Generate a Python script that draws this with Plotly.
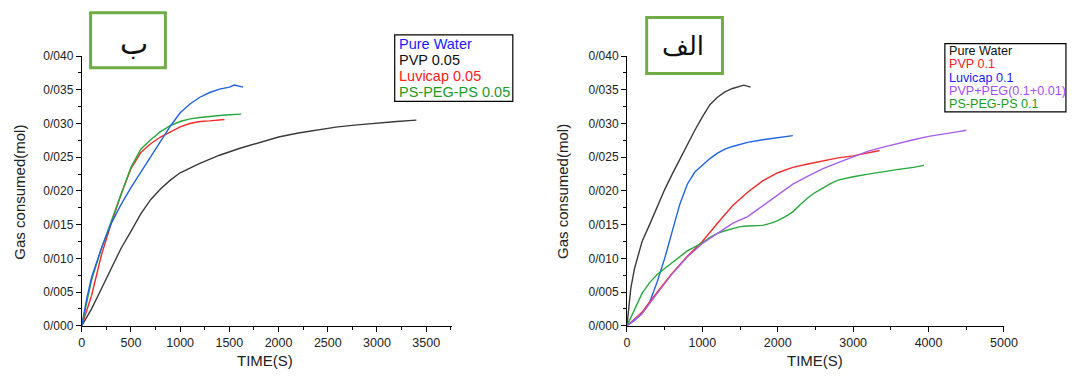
import plotly.graph_objects as go

W, H = 1076, 379

# ---------------- Left panel (ب) ----------------
left_pw_t = [0, 50, 100, 200, 300, 400, 500, 600, 700, 800, 900, 1000, 1100, 1200, 1300, 1400, 1500, 1550, 1600, 1640]
left_pw_v = [0, 0.0040, 0.0072, 0.0115, 0.0152, 0.0180, 0.0205, 0.0228, 0.0251, 0.0274, 0.0296, 0.0316, 0.0329, 0.0339, 0.0346, 0.0351, 0.0354, 0.0357, 0.0355, 0.0354]

left_pvp_t = [0, 100, 200, 300, 400, 500, 600, 700, 800, 900, 1000, 1200, 1400, 1600, 1800, 2000, 2200, 2400, 2600, 2800, 3000, 3200, 3400]
left_pvp_v = [0, 0.0025, 0.0055, 0.0085, 0.0115, 0.0140, 0.0166, 0.0187, 0.0203, 0.0216, 0.0227, 0.0241, 0.0253, 0.0263, 0.0272, 0.0280, 0.0286, 0.0291, 0.0295, 0.0298, 0.0301, 0.0303, 0.0305]

left_luv_t = [0, 100, 200, 300, 400, 500, 600, 700, 800, 900, 1000, 1100, 1200, 1300, 1400, 1450]
left_luv_v = [0, 0.0045, 0.0105, 0.0152, 0.0195, 0.0233, 0.0257, 0.0270, 0.0280, 0.0288, 0.0295, 0.0300, 0.0303, 0.0304, 0.0305, 0.0306]

left_ps_t = [0, 50, 100, 200, 300, 400, 500, 600, 700, 800, 900, 1000, 1100, 1200, 1300, 1400, 1500, 1620]
left_ps_v = [0, 0.0035, 0.0068, 0.0115, 0.0155, 0.0197, 0.0235, 0.0262, 0.0276, 0.0288, 0.0297, 0.0303, 0.0307, 0.0309, 0.0311, 0.0312, 0.0313, 0.0314]

# ---------------- Right panel (الف) ----------------
right_pw_t = [0, 50, 100, 200, 300, 400, 500, 600, 700, 800, 900, 1000, 1100, 1200, 1300, 1400, 1500, 1550, 1640]
right_pw_v = [0, 0.0055, 0.0085, 0.0125, 0.0150, 0.0177, 0.0202, 0.0225, 0.0247, 0.0270, 0.0290, 0.0310, 0.0328, 0.0339, 0.0347, 0.0352, 0.0355, 0.0357, 0.0354]

right_pvp_t = [0, 200, 400, 600, 800, 1000, 1200, 1400, 1600, 1800, 2000, 2200, 2400, 2600, 2800, 3000, 3200, 3350]
right_pvp_v = [0, 0.0020, 0.0050, 0.0078, 0.0103, 0.0125, 0.0152, 0.0178, 0.0198, 0.0215, 0.0227, 0.0235, 0.0240, 0.0245, 0.0249, 0.0252, 0.0256, 0.0260]

right_luv_t = [0, 100, 200, 300, 400, 500, 600, 700, 800, 900, 1000, 1100, 1200, 1300, 1400, 1500, 1600, 1800, 2000, 2200]
right_luv_v = [0, 0.0008, 0.0018, 0.0035, 0.0065, 0.0100, 0.0140, 0.0180, 0.0210, 0.0228, 0.0238, 0.0248, 0.0256, 0.0262, 0.0266, 0.0269, 0.0272, 0.0276, 0.0279, 0.0282]

right_peg_t = [0, 200, 400, 600, 800, 1000, 1200, 1400, 1600, 1800, 2000, 2200, 2400, 2600, 2800, 3000, 3200, 3400, 3600, 3800, 4000, 4200, 4400, 4500]
right_peg_v = [0, 0.0018, 0.0048, 0.0077, 0.0102, 0.0122, 0.0137, 0.0152, 0.0162, 0.0178, 0.0195, 0.0210, 0.0222, 0.0233, 0.0242, 0.0251, 0.0259, 0.0265, 0.0271, 0.0276, 0.0281, 0.0284, 0.0288, 0.0290]

right_ps_t = [0, 100, 200, 300, 400, 500, 600, 700, 800, 900, 1000, 1100, 1200, 1300, 1400, 1500, 1600, 1700, 1800, 1900, 2000, 2100, 2200, 2300, 2400, 2500, 2600, 2700, 2800, 2900, 3000, 3200, 3400, 3600, 3800, 3940]
right_ps_v = [0, 0.0025, 0.0048, 0.0064, 0.0076, 0.0085, 0.0094, 0.0103, 0.0111, 0.0117, 0.0123, 0.0131, 0.0137, 0.0141, 0.0144, 0.0147, 0.0148, 0.0148, 0.0149, 0.0152, 0.0156, 0.0162, 0.0169, 0.0180, 0.0190, 0.0198, 0.0205, 0.0211, 0.0216, 0.0219, 0.0221, 0.0225, 0.0229, 0.0232, 0.0235, 0.0238]

y_tickvals = [0, 0.005, 0.010, 0.015, 0.020, 0.025, 0.030, 0.035, 0.040]
y_ticktext = ["0/000", "0/005", "0/010", "0/015", "0/020", "0/025", "0/030", "0/035", "0/040"]
left_xticks = [0, 500, 1000, 1500, 2000, 2500, 3000, 3500]
right_xticks = [0, 1000, 2000, 3000, 4000, 5000]

left_legend = [("Pure Water", "#1a1aff"), ("PVP 0.05", "#111111"), ("Luvicap 0.05", "#ff2020"), ("PS-PEG-PS 0.05", "#1f9a1f")]
right_legend = [("Pure Water", "#111111"), ("PVP 0.1", "#ff2020"), ("Luvicap 0.1", "#1a1aff"), ("PVP+PEG(0.1+0.01)", "#a64dff"), ("PS-PEG-PS 0.1", "#1f9a1f")]

BLACK = "#3a3a3a"
BLUE = "#1f63e0"
RED = "#f22a2a"
GREEN = "#26a83c"
PURPLE = "#a65ee8"

fig = go.Figure()
lw = 1.4
fig.add_trace(go.Scatter(x=left_pvp_t, y=left_pvp_v, mode="lines", line=dict(color=BLACK, width=lw), xaxis="x", yaxis="y"))
fig.add_trace(go.Scatter(x=left_luv_t, y=left_luv_v, mode="lines", line=dict(color=RED, width=lw), xaxis="x", yaxis="y"))
fig.add_trace(go.Scatter(x=left_ps_t, y=left_ps_v, mode="lines", line=dict(color=GREEN, width=lw), xaxis="x", yaxis="y"))
fig.add_trace(go.Scatter(x=left_pw_t, y=left_pw_v, mode="lines", line=dict(color=BLUE, width=lw), xaxis="x", yaxis="y"))

fig.add_trace(go.Scatter(x=right_pw_t, y=right_pw_v, mode="lines", line=dict(color=BLACK, width=lw), xaxis="x2", yaxis="y2"))
fig.add_trace(go.Scatter(x=right_luv_t, y=right_luv_v, mode="lines", line=dict(color=BLUE, width=lw), xaxis="x2", yaxis="y2"))
fig.add_trace(go.Scatter(x=right_pvp_t, y=right_pvp_v, mode="lines", line=dict(color=RED, width=lw), xaxis="x2", yaxis="y2"))
fig.add_trace(go.Scatter(x=right_ps_t, y=right_ps_v, mode="lines", line=dict(color=GREEN, width=lw), xaxis="x2", yaxis="y2"))
fig.add_trace(go.Scatter(x=right_peg_t, y=right_peg_v, mode="lines", line=dict(color=PURPLE, width=lw), xaxis="x2", yaxis="y2"))

FONT = "Liberation Sans, Arial, sans-serif"


def px(x):
    return x / W


def py(y):
    return 1 - y / H


ydom = [py(331), py(51)]


def xaxis_cfg(dom, rng, ticks, minor_dtick, anchor):
    return dict(domain=dom, range=rng, tickvals=ticks, ticktext=[str(t) for t in ticks],
                showline=True, linecolor="#000", linewidth=1, ticks="outside", ticklen=5,
                tickcolor="#000", showgrid=False, zeroline=False, anchor=anchor,
                tickfont=dict(size=12.5, color="#222", family=FONT),
                minor=dict(ticks="outside", ticklen=3, dtick=minor_dtick, tick0=0, tickcolor="#000", showgrid=False))


def yaxis_cfg(anchor):
    return dict(domain=ydom, range=[0, 0.040], tickvals=y_tickvals, ticktext=y_ticktext,
                showline=True, linecolor="#000", linewidth=1, ticks="outside", ticklen=5,
                tickcolor="#000", showgrid=False, zeroline=False, anchor=anchor,
                tickfont=dict(size=12, color="#222", family=FONT),
                minor=dict(ticks="outside", ticklen=3, dtick=0.0025, tick0=0, tickcolor="#000", showgrid=False))


fig.update_layout(
    width=W, height=H, margin=dict(l=0, r=0, t=0, b=0),
    paper_bgcolor="white", plot_bgcolor="white", showlegend=False,
    font=dict(family=FONT, color="#222"),
    xaxis=xaxis_cfg([px(80), px(456)], [0, 3760], left_xticks, 250, "y"),
    yaxis=yaxis_cfg("x"),
    xaxis2=xaxis_cfg([px(634), px(1017)], [0, 5000], right_xticks, 500, "y2"),
    yaxis2=yaxis_cfg("x2"),
)

ann = []


def text_at(x, y, text, size, color="#222", family=FONT, xanchor="center", angle=0):
    ann.append(dict(x=px(x), y=py(y), text=text, showarrow=False, xref="paper", yref="paper",
                    xanchor=xanchor, yanchor="middle", textangle=angle,
                    font=dict(size=size, family=family, color=color)))


# axis titles
text_at(266, 367, "TIME(S)", 15)
text_at(825, 367, "TIME(S)", 15)
text_at(17, 192, "Gas consumed(mol)", 15, angle=-90)
text_at(569, 192, "Gas consumed(mol)", 15, angle=-90)

# legend boxes (one text per line, colored like the reference)
shapes = [
    dict(type="rect", xref="paper", yref="paper", x0=px(398), x1=px(518), y0=py(98), y1=py(29),
         line=dict(color="#000", width=1.2), fillcolor="white"),
    dict(type="rect", xref="paper", yref="paper", x0=px(957), x1=px(1080), y0=py(109), y1=py(38),
         line=dict(color="#000", width=1.2), fillcolor="white"),
]
for i, (name, col) in enumerate(left_legend):
    text_at(400, 38 + i * 16.7, name, 14.5, color=col, xanchor="left")
for i, (name, col) in enumerate(right_legend):
    text_at(959, 46 + i * 13.7, name, 12.6, color=col, xanchor="left")

# panel labels
text_at(133, 38, "ب", 30, color="#111", family="DejaVu Sans")
text_at(691, 40, "الف", 26, color="#111", family="DejaVu Sans")

shapes += [
    dict(type="rect", xref="paper", yref="paper", x0=px(89), x1=px(165), y0=py(63), y1=py(6),
         line=dict(color="#70AD47", width=3)),
    dict(type="rect", xref="paper", yref="paper", x0=px(654), x1=px(731), y0=py(69), y1=py(11),
         line=dict(color="#70AD47", width=3)),
]
fig.update_layout(annotations=ann, shapes=shapes)

fig.write_html("out.html", config={"displayModeBar": False},
               post_script="document.body.style.margin='0';document.body.style.overflow='hidden';")
